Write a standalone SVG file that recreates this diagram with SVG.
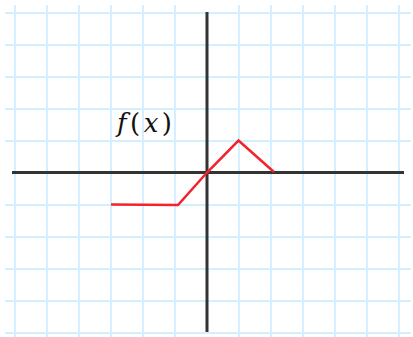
<svg xmlns="http://www.w3.org/2000/svg" width="413" height="337" viewBox="0 0 413 337">
<style>
.grid line{stroke:#d4efff;stroke-width:2}
.axis{stroke:#333;stroke-width:3;stroke-linecap:butt}
.fn{fill:none;stroke:#f5222d;stroke-width:2.5;stroke-linejoin:miter}
.lbl{font-family:"DejaVu Serif","Liberation Serif",serif;font-size:26px;fill:#111}
</style>
<rect width="413" height="337" fill="#fff"/>
<g id="grid" class="grid">
<line x1="15" y1="5" x2="15" y2="337"/>
<line x1="47" y1="5" x2="47" y2="337"/>
<line x1="79" y1="5" x2="79" y2="337"/>
<line x1="111" y1="5" x2="111" y2="337"/>
<line x1="143" y1="5" x2="143" y2="337"/>
<line x1="175" y1="5" x2="175" y2="337"/>
<line x1="239" y1="5" x2="239" y2="337"/>
<line x1="271" y1="5" x2="271" y2="337"/>
<line x1="303" y1="5" x2="303" y2="337"/>
<line x1="335" y1="5" x2="335" y2="337"/>
<line x1="367" y1="5" x2="367" y2="337"/>
<line x1="399" y1="5" x2="399" y2="337"/>
<line x1="5" y1="13" x2="411" y2="13"/>
<line x1="5" y1="45" x2="411" y2="45"/>
<line x1="5" y1="77" x2="411" y2="77"/>
<line x1="5" y1="109" x2="411" y2="109"/>
<line x1="5" y1="141" x2="411" y2="141"/>
<line x1="5" y1="205" x2="411" y2="205"/>
<line x1="5" y1="237" x2="411" y2="237"/>
<line x1="5" y1="269" x2="411" y2="269"/>
<line x1="5" y1="301" x2="411" y2="301"/>
<line x1="5" y1="333" x2="411" y2="333"/>
</g>
<g id="axes">
<line class="axis" x1="12" y1="172.5" x2="404" y2="172.5"/>
<line class="axis" x1="207" y1="12" x2="207" y2="332"/>
</g>
<g id="function">
<polyline class="fn" points="111,204.5 178,205 207,172.5 238.5,140.5 274,172"/>
</g>
<g id="label">
<text class="lbl" x="117" y="132" textLength="55" lengthAdjust="spacing"><tspan font-style="italic">f</tspan>(<tspan font-style="italic">x</tspan>)</text>
</g>
</svg>
